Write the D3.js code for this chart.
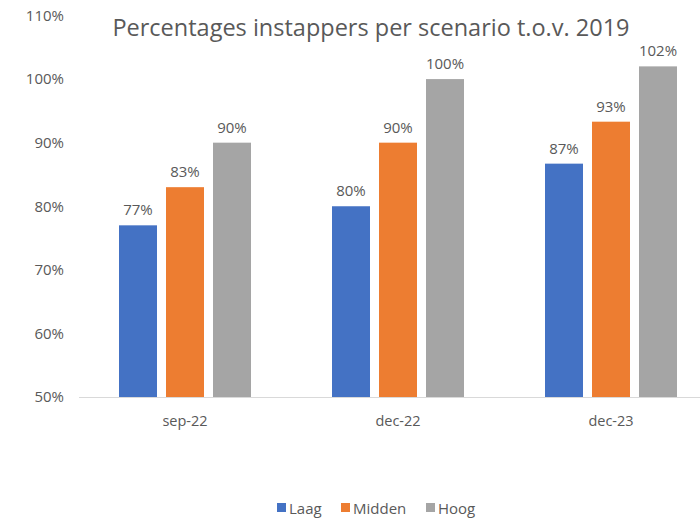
<!DOCTYPE html>
<html><head><meta charset="utf-8">
<script src="https://cdn.jsdelivr.net/npm/d3@7"></script>
<style>body{margin:0;background:#fff}svg{display:block}text{font-family:"Open Sans",sans-serif}</style>
</head><body><svg id="c" width="700" height="519"></svg>
<script>
const categories = ["sep-22", "dec-22", "dec-23"];
const seriesNames = ["Laag", "Midden", "Hoog"];
const laag = [77, 80, 86.7];
const midden = [83, 90, 93.3];
const hoog = [90, 100, 102];
const labels = [["77%","80%","87%"],["83%","90%","93%"],["90%","100%","102%"]];
const yTicks = [50, 60, 70, 80, 90, 100, 110];
const colors = ["#4472C4", "#ED7D31", "#A5A5A5"];
const title = "Percentages instappers per scenario t.o.v. 2019";

const values = [laag, midden, hoog];
const svg = d3.select("#c");
const textColor = "#595959";

const x0 = d3.scaleBand().domain(categories).range([78.5, 717.5]).padding(0);
const x1 = d3.scaleBand().domain(seriesNames).range([0, 132]).paddingInner(18/94).paddingOuter(0);
const y = d3.scaleLinear().domain([50, 110]).range([397, 15.5]);

// title
svg.append("text").attr("x", 371).attr("y", 36).attr("text-anchor", "middle")
  .attr("font-size", 23.5).attr("fill", textColor).text(title);

// y axis
const ya = svg.append("g").attr("transform", "translate(64,0)")
  .call(d3.axisLeft(y).tickValues(yTicks).tickFormat(d => d + "%").tickSize(0).tickPadding(0));
ya.select(".domain").remove();
ya.selectAll("text").attr("font-size", 15).attr("fill", textColor).attr("font-family", '"Open Sans",sans-serif');

// bars
const groups = svg.append("g").selectAll("g").data(categories).join("g")
  .attr("transform", d => `translate(${x0(d) + x0.bandwidth()/2 - 66},0)`);
seriesNames.forEach((s, si) => {
  groups.append("rect")
    .attr("x", x1(s)).attr("width", x1.bandwidth())
    .attr("y", (d, ci) => y(values[si][ci]))
    .attr("height", (d, ci) => y(50) - y(values[si][ci]))
    .attr("fill", colors[si]);
  groups.append("text")
    .attr("x", x1(s) + x1.bandwidth()/2)
    .attr("y", (d, ci) => y(values[si][ci]) - 10)
    .attr("text-anchor", "middle").attr("font-size", 15).attr("fill", textColor)
    .text((d, ci) => labels[si][ci]);
});

// x axis
const xa = svg.append("g").attr("transform", "translate(0,397)")
  .call(d3.axisBottom(x0).tickSize(0).tickPadding(19));
xa.select(".domain").attr("stroke", "#d9d9d9").attr("stroke-width", 1.2);
xa.selectAll("text").attr("font-size", 14.5).attr("fill", textColor).attr("font-family", '"Open Sans",sans-serif');

// legend
const legendX = [277, 341, 426];
const lg = svg.append("g");
seriesNames.forEach((s, i) => {
  lg.append("rect").attr("x", legendX[i]).attr("y", 503).attr("width", 9).attr("height", 9).attr("fill", colors[i]);
  lg.append("text").attr("x", legendX[i] + 12).attr("y", 514).attr("font-size", 15).attr("fill", textColor).text(s);
});
</script></body></html>
